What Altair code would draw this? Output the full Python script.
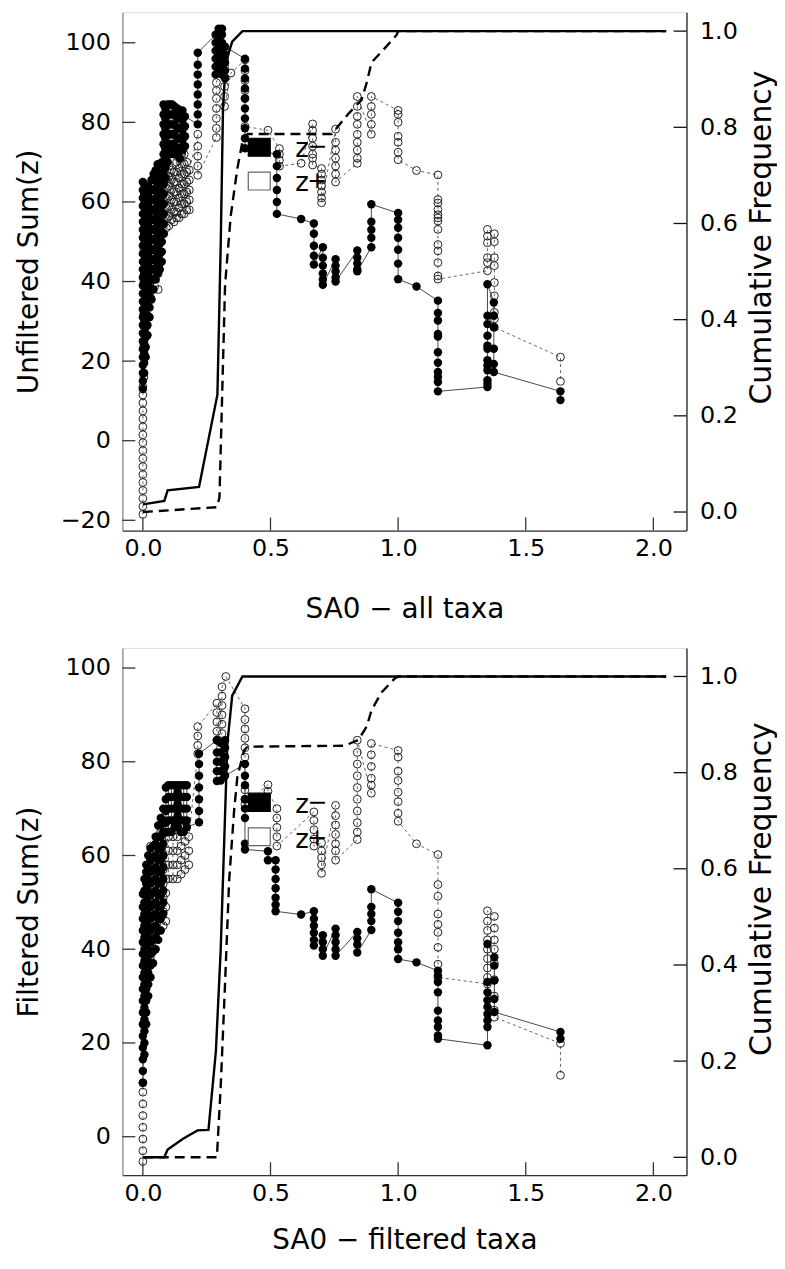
import altair as alt
import pandas as pd

FONT = "DejaVu Sans"
X_TICKS = [0.0, 0.5, 1.0, 1.5, 2.0]
F_TICKS = [0.0, 0.2, 0.4, 0.6, 0.8, 1.0]
TOP_Y_TICKS = [-20, 0, 20, 40, 60, 80, 100]
BOT_Y_TICKS = [0, 20, 40, 60, 80, 100]
X_DOM = [-0.0802, 2.1297]

# ---------------- top panel (all taxa) ----------------
TOP_NEG_X = [0.000, 0.005, 0.011, 0.018, 0.026, 0.034, 0.042, 0.050, 0.058, 0.066,
             0.074, 0.081, 0.088, 0.097, 0.106, 0.115, 0.124, 0.135, 0.145, 0.155,
             0.165, 0.215, 0.285, 0.297, 0.310, 0.322, 0.400, 0.525, 0.620, 0.670,
             0.705, 0.755, 0.840, 0.895, 1.000, 1.072, 1.156, 1.350, 1.375, 1.636]
TOP_NEG_Y = [
    [13, 15, 17, 19, 21, 23, 25, 27, 29, 31, 33, 35, 37, 39, 41, 43, 45, 47, 49, 51, 53, 55, 57, 59, 61, 63, 65],
    [64.5, 62, 59.5, 57, 54.5, 52, 49.5, 47, 44.5, 42, 39.5, 37, 34.5, 32, 29.5, 27, 24.5, 22, 19.5, 17],
    [21, 23.5, 26, 28.5, 31, 33.5, 36, 38.5, 41, 43.5, 46, 48.5, 51, 53.5, 56, 58.5, 61, 63.5],
    [64, 61.5, 59, 56.5, 54, 51.5, 49, 46.5, 44, 41.5, 39, 36.5, 34, 31.5, 29, 26.5],
    [31, 33.5, 36, 38.5, 41, 43.5, 46, 48.5, 51, 53.5, 56, 58.5, 61, 63.5],
    [65.5, 63, 60.5, 58, 55.5, 53, 50.5, 48, 45.5, 43, 40.5, 38, 35.5],
    [38, 40.5, 43, 45.5, 48, 50.5, 53, 55.5, 58, 60.5, 63, 65.5, 67],
    [68, 65.5, 63, 60.5, 58, 55.5, 53, 50.5, 48, 45.5, 43, 40.5],
    [42, 44.5, 47, 49.5, 52, 54.5, 57, 59.5, 62, 64.5, 67, 69.5],
    [69.5, 67, 64.5, 62, 59.5, 57, 54.5, 52, 49.5, 47, 44.5, 43],
    [45, 47.5, 50, 52.5, 55, 57.5, 60, 62.5, 65, 67.5, 70],
    [84.5, 82, 79.5, 77, 74.5, 72, 69.5, 67, 64.5, 62, 59.5, 57, 54.5, 52],
    [66, 68.5, 71, 73.5, 76, 78.5, 81, 83.5],
    [84.5, 82, 79.5, 77, 74.5, 72, 70],
    [72, 74.5, 77, 79.5, 82, 84.5],
    [84.5, 82, 79.5, 77, 74.5, 73],
    [72, 74.5, 77, 79.5, 82, 84],
    [83.5, 81, 78.5, 76, 73.5, 72],
    [71, 73.5, 76, 78.5, 81, 83],
    [83, 80.5, 78, 75.5, 73],
    [74, 76.5, 79, 81.5],
    [79.5, 82, 84.5, 87, 89.5, 92, 94.5, 97.5],
    [102, 100, 98, 96, 94, 92],
    [92.5, 94.5, 96.5, 98.5, 100.5, 102.5, 103.5],
    [103.5, 102, 100, 98, 96, 94, 92],
    [91, 93, 95, 97, 99],
    [96, 93.5, 91, 88.5, 86, 83.5, 81, 78.5, 76, 73.5],
    [72, 69, 66, 63, 60, 57],
    [55.7],
    [54.6, 52, 49, 46.5, 44.3],
    [48.6, 46, 44, 42, 40.5, 39.2],
    [45.6, 44, 42.5, 41, 40],
    [47.8, 46, 44.5, 43, 42.6],
    [48.6, 51, 53, 55, 59.4],
    [57.2, 55.5, 53.5, 51, 48, 44.5, 40.6],
    [38.75],
    [35.2, 32.1, 30.2, 26.8, 26.2, 22.25, 19.6, 17.25, 16, 14.75, 12.4],
    [13.5, 14.3, 15.2, 17.7, 18.9, 20.2, 23.1, 23.9, 26.4, 29.3, 31.4, 39.3],
    [34.75, 31.4, 28.5, 23.1, 19.3, 17.25],
    [12.4, 10.2],
]
TOP_POS_X = [0.000, 0.004, 0.030, 0.060, 0.082, 0.092, 0.102, 0.112, 0.122, 0.132,
             0.142, 0.152, 0.162, 0.172, 0.182, 0.215, 0.288, 0.320, 0.345, 0.400,
             0.490, 0.535, 0.620, 0.665, 0.700, 0.755, 0.840, 0.895, 1.000, 1.072,
             1.156, 1.350, 1.377, 1.636]
TOP_POS_Y = [
    [-18.5, -16.5, -14.5, -12.5, -10.5, -8.5, -6.5, -4.5, -2.5, -0.5, 1.5, 3.5, 5.5, 7.5, 9.5, 11.5, 13.5],
    [48, 40, 32, 24, 16],
    [36, 40, 44, 48, 52, 56],
    [54, 50, 46, 42, 38],
    [52, 54.5, 57, 59.5, 62, 64.5],
    [66, 63.5, 61, 58.5, 56, 53.5],
    [54, 56.5, 59, 61.5, 64, 66.5, 69],
    [68, 65.5, 63, 60.5, 58, 55.5],
    [55, 57.5, 60, 62.5, 65, 67.5],
    [70, 67.5, 65, 62.5, 60, 57.5, 56],
    [56, 58.5, 61, 63.5, 66, 68.5, 71],
    [72, 69.5, 67, 64.5, 62, 59.5, 57],
    [57, 59.5, 62, 64.5, 67, 69.5, 72],
    [70, 67.5, 65, 62.5, 60, 58],
    [58, 60.5, 63, 65.5, 68],
    [77, 74, 71.5, 69, 66.7],
    [76.2, 78.5, 81, 83.5, 86, 88, 90],
    [97.7, 96, 94, 91.5, 89, 86.5, 84],
    [92.4],
    [95.7, 93, 90.5, 88, 86, 79],
    [78],
    [73.4, 72, 70.5, 69],
    [69.7],
    [79.6, 78, 76, 74, 72, 71, 69.3],
    [68.4, 67, 65.5, 64, 62.5, 61, 59.8],
    [78.3, 75, 73, 71, 69, 67, 65],
    [69.7, 71, 73, 75, 77, 79.5, 81.5, 84, 86.5],
    [77, 79.5, 82, 84, 86.5],
    [83, 82, 80, 76.5, 75, 72.5, 70.6],
    [67.9],
    [66.8, 60.6, 59.75, 58.1, 56.8, 56, 55.2, 53.1, 49.3, 47.7, 44.75, 41.4, 40.6],
    [42.7, 44.75, 46, 49.75, 51.4, 53.1],
    [52, 50, 46, 44, 39.75, 36.4, 32.25, 30.6, 28.5],
    [21, 14.9],
]
TOP_CUM_NEG_X = [0.0, 0.084, 0.097, 0.22, 0.292, 0.305, 0.314, 0.325, 0.35, 0.39, 2.05]
TOP_CUM_NEG_F = [0.016, 0.023, 0.045, 0.052, 0.244, 0.558, 0.843, 0.935, 0.978, 1.0, 1.0]
TOP_CUM_POS_X = [0.0, 0.29, 0.30, 0.322, 0.344, 0.37, 0.39, 0.41, 0.74, 0.805, 0.857,
                 0.877, 0.896, 0.935, 0.994, 1.0, 2.05]
TOP_CUM_POS_F = [0.0, 0.01, 0.03, 0.472, 0.615, 0.714, 0.77, 0.786, 0.786, 0.828, 0.857,
                 0.893, 0.935, 0.957, 0.992, 1.0, 1.0]
TOP_LEG = {"x1": 0.413, "x2": 0.499, "neg": [71.5, 76.0], "pos": [63.0, 67.5],
           "tx": 0.597, "neg_t": 71.4, "pos_t": 62.7}

# ---------------- bottom panel (filtered taxa) ----------------
BOT_NEG_X = [0.000, 0.006, 0.013, 0.021, 0.030, 0.040, 0.050, 0.060, 0.070, 0.080,
             0.090, 0.100, 0.112, 0.124, 0.136, 0.148, 0.160, 0.172, 0.220, 0.290,
             0.305, 0.322, 0.400, 0.490, 0.520, 0.620, 0.670, 0.705, 0.755, 0.840,
             0.895, 1.000, 1.072, 1.156, 1.350, 1.377, 1.636]
BOT_NEG_Y = [
    [11.5, 14, 16.5, 19, 21.5, 24, 26.5, 29, 31.5, 34, 36.5, 39, 41.5, 44, 46.5, 49, 51.8],
    [55, 52.5, 50, 47.5, 45, 42.5, 40, 37.5, 35, 32.5, 30, 27.5, 25, 22.5, 20, 17.5],
    [24, 26.5, 29, 31.5, 34, 36.5, 39, 41.5, 44, 46.5, 49, 51.5, 54, 56.5, 58],
    [60, 57.5, 55, 52.5, 50, 47.5, 45, 42.5, 40, 37.5, 35, 32.5, 30],
    [34, 36.5, 39, 41.5, 44, 46.5, 49, 51.5, 54, 56.5, 59, 61.5],
    [62, 59.5, 57, 54.5, 52, 49.5, 47, 44.5, 42, 39.5, 37],
    [40, 42.5, 45, 47.5, 50, 52.5, 55, 57.5, 60, 62.5, 64],
    [66.4, 64, 61.5, 59, 56.5, 54, 51.5, 49, 46.5, 44, 42],
    [44, 46.5, 49, 51.5, 54, 56.5, 59, 61.5, 64, 66.5, 68],
    [70, 67.5, 65, 62.5, 60, 57.5, 55, 52.5, 50, 47.5],
    [64.9, 67, 69.5, 72, 74.5],
    [75, 72.5, 70, 67.5, 65],
    [65, 67.5, 70, 72.5, 75],
    [75, 72.5, 70, 67.5, 66],
    [66, 68.5, 71, 73.5, 75],
    [75, 72.5, 70, 67.5, 65],
    [65, 67.5, 70, 72.5, 75],
    [75, 72.5, 70, 67.5, 66],
    [67.1, 69.5, 72, 74.5, 77, 79.5, 81.7],
    [84.6, 82, 80, 78, 75.9],
    [76, 78, 80, 82, 84],
    [84.6, 83, 81, 79, 77],
    [79.5, 77, 75, 72, 70, 68, 62.5, 61.3],
    [60.9, 59],
    [59, 57, 55, 53, 51, 49.5, 48.1],
    [47.4],
    [48.1, 46.5, 45, 43.5, 42, 40.8],
    [43, 41.5, 40, 38.6],
    [44.4, 43, 41.5, 40, 38.6],
    [43.7, 42.3, 41, 39.3],
    [44.1, 46, 47.5, 49, 52.8],
    [49.9, 48, 46, 43.5, 41.5, 40, 37.9],
    [37.2],
    [35.4, 34.4, 33, 30.8, 26.9, 24.8, 23.4, 21.6, 20.9],
    [19.5, 23.4, 24.8, 26.2, 27.7, 29.1, 30.8, 33, 41.1],
    [38.3, 36.5, 33.3, 29.4, 26.6],
    [22.35, 20.9],
]
BOT_POS_X = [0.000, 0.030, 0.055, 0.080, 0.090, 0.100, 0.118, 0.135, 0.150, 0.165,
             0.180, 0.215, 0.290, 0.310, 0.325, 0.400, 0.490, 0.525, 0.670, 0.700,
             0.755, 0.840, 0.895, 1.000, 1.072, 1.156, 1.350, 1.377, 1.636]
BOT_POS_Y = [
    [-5.3, -3, -0.5, 2, 4.5, 7, 9.5, 11.5],
    [62, 59, 56, 53, 50, 47, 44, 41],
    [44, 48, 52, 56, 60, 62],
    [60, 57, 54, 51, 48, 45],
    [46, 49, 52, 55, 58],
    [66.4, 64, 61, 58, 55],
    [55, 58, 61, 64],
    [64, 61, 58, 55],
    [56, 59, 62, 65],
    [66, 63, 60, 57],
    [58, 61, 64],
    [81.7, 83.5, 85.5, 87.5],
    [92.5, 90.5, 88.5, 86.5, 84.6],
    [86, 88, 90, 92, 94, 96],
    [98.2],
    [91.3, 89, 87, 85, 83, 81, 74, 72, 70.9],
    [75.1, 73.7],
    [70, 68, 66, 64, 62],
    [69.3, 67.5, 65.5, 63.5, 62],
    [62.7, 61, 59.5, 58, 56.2],
    [70.7, 68.5, 66.5, 64.5, 62.5, 61, 59],
    [63.4, 65, 67, 69.5, 72, 74.5, 77, 79.5, 82, 84.6],
    [73.3, 75, 76.5, 79, 81.5, 83.9],
    [82.4, 81, 78, 76, 73.5, 71.5, 69, 67.3],
    [62.5],
    [60.2, 53.8, 51.3, 47.5, 45.3, 43.6, 40.4, 36.8, 34],
    [32.6, 34, 36, 38, 40, 42, 44, 46, 48.2],
    [47, 44.5, 42, 40, 37, 33.5, 30, 27, 25.5],
    [19.9, 13.1],
]
BOT_CUM_NEG_X = [0.0, 0.084, 0.097, 0.156, 0.188, 0.214, 0.257, 0.286, 0.305, 0.318,
                 0.331, 0.35, 0.39, 2.05]
BOT_CUM_NEG_F = [0.0, 0.0, 0.016, 0.038, 0.048, 0.056, 0.057, 0.22, 0.433, 0.647,
                 0.861, 0.96, 1.0, 1.0]
BOT_CUM_POS_X = [0.0, 0.29, 0.295, 0.305, 0.322, 0.338, 0.357, 0.37, 0.396, 0.41, 0.79,
                 0.844, 0.877, 0.896, 0.935, 0.987, 1.0, 2.05]
BOT_CUM_POS_F = [0.0, 0.0, 0.05, 0.148, 0.362, 0.576, 0.718, 0.79, 0.846, 0.854, 0.856,
                 0.868, 0.896, 0.93, 0.967, 0.996, 1.0, 1.0]
BOT_LEG = {"x1": 0.413, "x2": 0.499, "neg": [69.4, 73.3], "pos": [62.1, 65.9],
           "tx": 0.597, "neg_t": 69.05, "pos_t": 61.6}

LEG_SIGNS = ["\u2212", "+"]
W = 567


def cols_df(xs, yss):
    rows = []
    k = 0
    for x, ys in zip(xs, yss):
        for y in ys:
            rows.append({"x": x, "y": y, "k": k})
            k += 1
    return pd.DataFrame(rows)


def panel(neg_x, neg_y, pos_x, pos_y, cnx, cnf, cpx, cpf, y_dom, f_dom, y_ticks,
          leg, ytitle, xtitle, H, xtitle_y, ftitle_y):
    xs = alt.Scale(domain=X_DOM, nice=False, zero=False)
    ys = alt.Scale(domain=y_dom, nice=False, zero=False)
    fs = alt.Scale(domain=f_dom, nice=False, zero=False)
    common = dict(tickSize=0, labelFontSize=24, labelFont=FONT, labelColor="black",
                  domainWidth=1.2, grid=False, titleFont=FONT,
                  titleFontWeight="normal", titleColor="black")
    xaxis = alt.Axis(values=X_TICKS, format=".1f", labelPadding=6, domainColor="#333",
                     title=xtitle, titleY=xtitle_y, titleBaseline="middle",
                     titleFontSize=28, labelFlush=False, **common)
    yaxis = alt.Axis(values=y_ticks, format="d", labelPadding=12, domainColor="#888",
                     title=ytitle, titleAngle=270, titleX=-93, titleY=H / 2,
                     titleFontSize=28, titleAlign="center", titleBaseline="middle",
                     **common)
    faxis = alt.Axis(values=F_TICKS, format=".1f", labelPadding=13, domainColor="#111",
                     orient="right", title="Cumulative Frequency", titleAngle=270,
                     titleX=75, titleY=ftitle_y, titleFontSize=30, titleAlign="center",
                     titleBaseline="middle", **common)
    X = lambda f: alt.X(f, type="quantitative", scale=xs, axis=xaxis)
    Y = lambda f: alt.Y(f, type="quantitative", scale=ys, axis=yaxis)
    F = lambda f: alt.Y(f, type="quantitative", scale=fs, axis=faxis)

    neg = cols_df(neg_x, neg_y)
    pos = cols_df(pos_x, pos_y)
    cneg = pd.DataFrame({"x": cnx, "f": cnf, "k": range(len(cnx))})
    cpos = pd.DataFrame({"x": cpx, "f": cpf, "k": range(len(cpx))})
    yt = pd.DataFrame({"v": y_ticks})
    xt = pd.DataFrame({"v": X_TICKS})
    ft = pd.DataFrame({"v": F_TICKS})
    rects = pd.DataFrame({"x1": [leg["x1"], leg["x1"]], "x2": [leg["x2"], leg["x2"]],
                          "y1": [leg["neg"][0], leg["pos"][0]],
                          "y2": [leg["neg"][1], leg["pos"][1]],
                          "fill": ["black", "white"], "stroke": ["black", "#666"]})
    texts = pd.DataFrame({"x": [leg["tx"], leg["tx"]], "y": [leg["neg_t"], leg["pos_t"]],
                          "t": ["z", "z"], "s": LEG_SIGNS})

    neg_line = alt.Chart(neg).mark_line(color="#333", strokeWidth=0.9).encode(
        x=X("x"), y=Y("y"), order="k:Q")
    pos_line = alt.Chart(pos).mark_line(color="#555", strokeWidth=0.9,
                                        strokeDash=[3, 3]).encode(
        x=X("x"), y=Y("y"), order="k:Q")
    neg_pts = alt.Chart(neg).mark_circle(color="black", size=72, opacity=1).encode(
        x=X("x"), y=Y("y"))
    pos_pts = alt.Chart(pos).mark_point(shape="circle", filled=False, color="#222",
                                        size=62, strokeWidth=1, opacity=1).encode(
        x=X("x"), y=Y("y"))
    leg_rect = alt.Chart(rects).mark_rect(strokeWidth=1.2).encode(
        x=X("x1"), x2="x2", y=Y("y1"), y2="y2",
        fill=alt.Fill("fill:N", scale=None), stroke=alt.Stroke("stroke:N", scale=None))
    leg_z = alt.Chart(texts).mark_text(align="left", baseline="alphabetic",
                                       fontSize=26, font=FONT, color="black").encode(
        x=X("x"), y=Y("y"), text="t:N")
    leg_s = alt.Chart(texts).mark_text(align="left", baseline="alphabetic", dx=12,
                                       dy=-3, fontSize=24, font=FONT,
                                       color="black").encode(
        x=X("x"), y=Y("y"), text="s:N")
    yticks = alt.Chart(yt).mark_rule(color="#333", strokeWidth=1.3).encode(
        y=Y("v"), x=alt.value(0), x2=alt.value(13))
    xticks = alt.Chart(xt).mark_rule(color="#333", strokeWidth=1.3).encode(
        x=X("v"), y=alt.value(H), y2=alt.value(H - 13))

    left = alt.layer(neg_line, pos_line, pos_pts, neg_pts, leg_rect, leg_z, leg_s,
                     yticks, xticks)

    cn = alt.Chart(cneg).mark_line(color="black", strokeWidth=2.4).encode(
        x=X("x"), y=F("f"), order="k:Q")
    cp = alt.Chart(cpos).mark_line(color="black", strokeWidth=2.4,
                                   strokeDash=[10, 6]).encode(
        x=X("x"), y=F("f"), order="k:Q")
    fticks = alt.Chart(ft).mark_rule(color="#111", strokeWidth=1.3).encode(
        y=F("v"), x=alt.value(W - 13), x2=alt.value(W))
    right = alt.layer(cn, cp, fticks)

    return alt.layer(left, right).resolve_scale(y="independent").properties(
        width=W, height=H)


top = panel(TOP_NEG_X, TOP_NEG_Y, TOP_POS_X, TOP_POS_Y,
            TOP_CUM_NEG_X, TOP_CUM_NEG_F, TOP_CUM_POS_X, TOP_CUM_POS_F,
            [-22.575, 107.675], [-0.0385, 1.0393], TOP_Y_TICKS, TOP_LEG,
            "Unfiltered Sum(z)", "SA0 \u2212 all taxa", 521, 79, 226)
bottom = panel(BOT_NEG_X, BOT_NEG_Y, BOT_POS_X, BOT_POS_Y,
               BOT_CUM_NEG_X, BOT_CUM_NEG_F, BOT_CUM_POS_X, BOT_CUM_POS_F,
               [-8.21, 104.29], [-0.0372, 1.0594], BOT_Y_TICKS, BOT_LEG,
               "Filtered Sum(z)", "SA0 \u2212 filtered taxa", 530, 66, 242)

chart = alt.vconcat(top, bottom, spacing=23).properties(
    padding={"left": 7, "top": 0, "right": 0, "bottom": 0}
).configure_view(stroke=None).configure(background="white")

chart.save("out.html", embed_options={"renderer": "svg", "actions": False})
